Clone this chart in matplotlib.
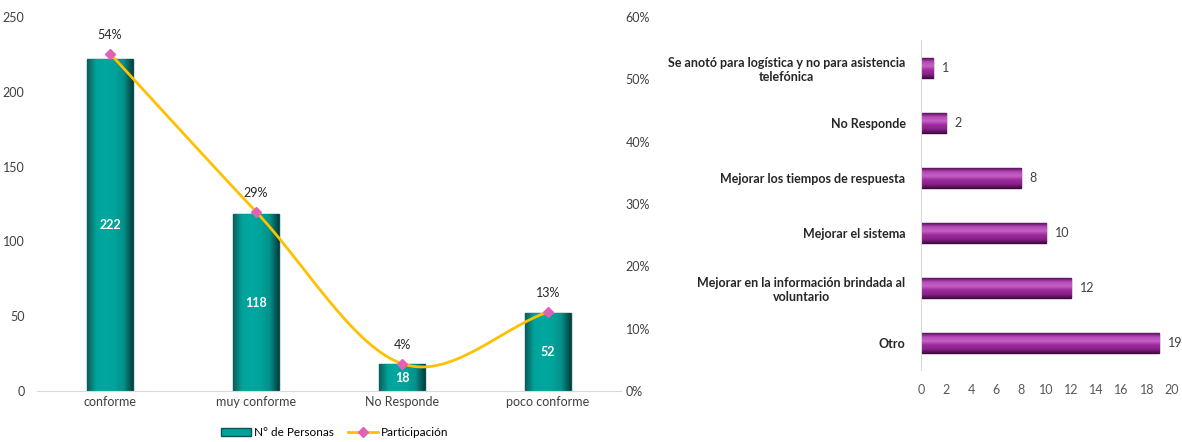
import numpy as np
import matplotlib
matplotlib.use("Agg")
import matplotlib.pyplot as plt
from matplotlib.colors import LinearSegmentedColormap
from matplotlib.ticker import PercentFormatter

plt.rcParams['font.family'] = ['Lato', 'DejaVu Sans']

# left chart data
categories = ["conforme", "muy conforme", "No Responde", "poco conforme"]
personas = [222, 118, 18, 52]

# right chart data (bottom to top)
motivos = ["Otro",
           "Mejorar en la información brindada al\nvoluntario",
           "Mejorar el sistema",
           "Mejorar los tiempos de respuesta",
           "No Responde",
           "Se anotó para logística y no para asistencia\ntelefónica"]
cantidades = [19, 12, 10, 8, 2, 1]

total = sum(personas)
participacion = [p / total for p in personas]


def catmull_rom(x, y, n=40):
    # smoothed line like the spreadsheet "smooth line" option
    x = np.asarray(x, float)
    y = np.asarray(y, float)
    px = np.concatenate([[2 * x[0] - x[1]], x, [2 * x[-1] - x[-2]]])
    py = np.concatenate([[2 * y[0] - y[1]], y, [2 * y[-1] - y[-2]]])
    xs, ys = [], []
    for i in range(1, len(px) - 2):
        t = np.linspace(0, 1, n)
        for arr, out in ((px, xs), (py, ys)):
            p0, p1, p2, p3 = arr[i - 1], arr[i], arr[i + 1], arr[i + 2]
            out.extend(0.5 * (2 * p1 + (-p0 + p2) * t
                              + (2 * p0 - 5 * p1 + 4 * p2 - p3) * t ** 2
                              + (-p0 + 3 * p1 - 3 * p2 + p3) * t ** 3))
    return np.array(xs), np.array(ys)


def shade_bars(ax, patches, cmap, horizontal=True):
    # fake the bevel look with a gradient clipped to each bar
    grad = np.linspace(0, 1, 256)
    img = grad[None, :] if horizontal else grad[::-1][:, None]
    for p in patches:
        x0, y0 = p.get_x(), p.get_y()
        w, h = p.get_width(), p.get_height()
        im = ax.imshow(img, cmap=cmap, aspect='auto', origin='lower',
                       extent=(x0, x0 + w, y0, y0 + h), zorder=2.5)
        im.set_clip_path(p)


teal_cmap = LinearSegmentedColormap.from_list(
    'teal', ['#0C5C58', '#00A39B', '#00A89F', '#00A39B', '#04908A', '#053F3D'])
purple_cmap = LinearSegmentedColormap.from_list(
    'purp', ['#5A1060', '#B84CB8', '#C460C4', '#9C2A9C', '#8A218A', '#4A0C4A'])

fig = plt.figure(figsize=(11.82, 4.42), dpi=100)

# ---- left: bars + participation line
ax = fig.add_axes([0.0313, 0.1154, 0.494, 0.846])
x = np.arange(len(categories))
bars = ax.bar(x, personas, width=0.31, color='#00A39B', edgecolor='#0A5552',
              linewidth=1.0, label='N° de Personas', zorder=2)
shade_bars(ax, bars, teal_cmap, horizontal=True)
ax.bar_label(bars, labels=[str(v) for v in personas], label_type='center',
             color='white', fontsize=9, fontweight='bold', zorder=5)
ax.set_xlim(-0.5, 3.5)
ax.set_ylim(0, 250)
ax.set_yticks(range(0, 251, 50))
ax.set_xticks(x)
ax.set_xticklabels(categories)
ax.tick_params(length=0, labelsize=9, colors='#404040')
ax.tick_params(axis='y', pad=9)
for s in ['top', 'right', 'left']:
    ax.spines[s].set_visible(False)
ax.spines['bottom'].set_color('#D9D9D9')

ax2 = ax.twinx()
sx, sy = catmull_rom(x, participacion)
ax2.plot(sx, sy, color='#FFC000', linewidth=2, zorder=3)
ax2.plot(x, participacion, linestyle='none', marker='D', markersize=5,
         color='#E062B4', zorder=4)
ax2.plot([], [], color='#FFC000', linewidth=2, marker='D', markersize=5,
         markerfacecolor='#E062B4', markeredgecolor='#E062B4', label='Participación')
for xi, p in zip(x, participacion):
    ax2.annotate(f"{p:.0%}", (xi, p), xytext=(0, 9), textcoords='offset points',
                 ha='center', va='bottom', fontsize=9, color='#262626')
ax2.set_ylim(0, 0.6)
ax2.set_yticks(np.arange(0, 0.61, 0.1))
ax2.yaxis.set_major_formatter(PercentFormatter(1.0, decimals=0))
ax2.tick_params(length=0, labelsize=9, colors='#404040')
for s in ax2.spines.values():
    s.set_visible(False)

h1, l1 = ax.get_legend_handles_labels()
h2, l2 = ax2.get_legend_handles_labels()
fig.legend(h1 + h2, l1 + l2, loc='center', bbox_to_anchor=(0.283, 0.022),
           ncol=2, frameon=False, fontsize=8.5, handlelength=2.6,
           columnspacing=1.2, handletextpad=0.2)

# ---- right: horizontal bars
axr = fig.add_axes([0.779, 0.1618, 0.2124, 0.7466])
y = np.arange(len(motivos))
hb = axr.barh(y, cantidades, height=0.35, color='#9C2A9C', edgecolor='#3E0A3E',
              linewidth=1.0, zorder=2)
shade_bars(axr, hb, purple_cmap, horizontal=False)
axr.bar_label(hb, labels=[str(v) for v in cantidades], padding=6,
              fontsize=9, color='#404040')
axr.set_xlim(0, 20)
axr.set_ylim(-0.5, 5.5)
axr.set_xticks(range(0, 21, 2))
axr.set_yticks(y)
axr.set_yticklabels(motivos, fontweight='bold', fontsize=7.8, color='#262626')
for lbl in axr.get_yticklabels():
    lbl.set_multialignment('center')
axr.tick_params(length=0, labelsize=9)
axr.tick_params(axis='x', colors='#595959', pad=10)
axr.tick_params(axis='y', pad=11)
for s in ['top', 'right', 'bottom']:
    axr.spines[s].set_visible(False)
axr.spines['left'].set_color('#D9D9D9')

fig.savefig("out.png", dpi=100)
